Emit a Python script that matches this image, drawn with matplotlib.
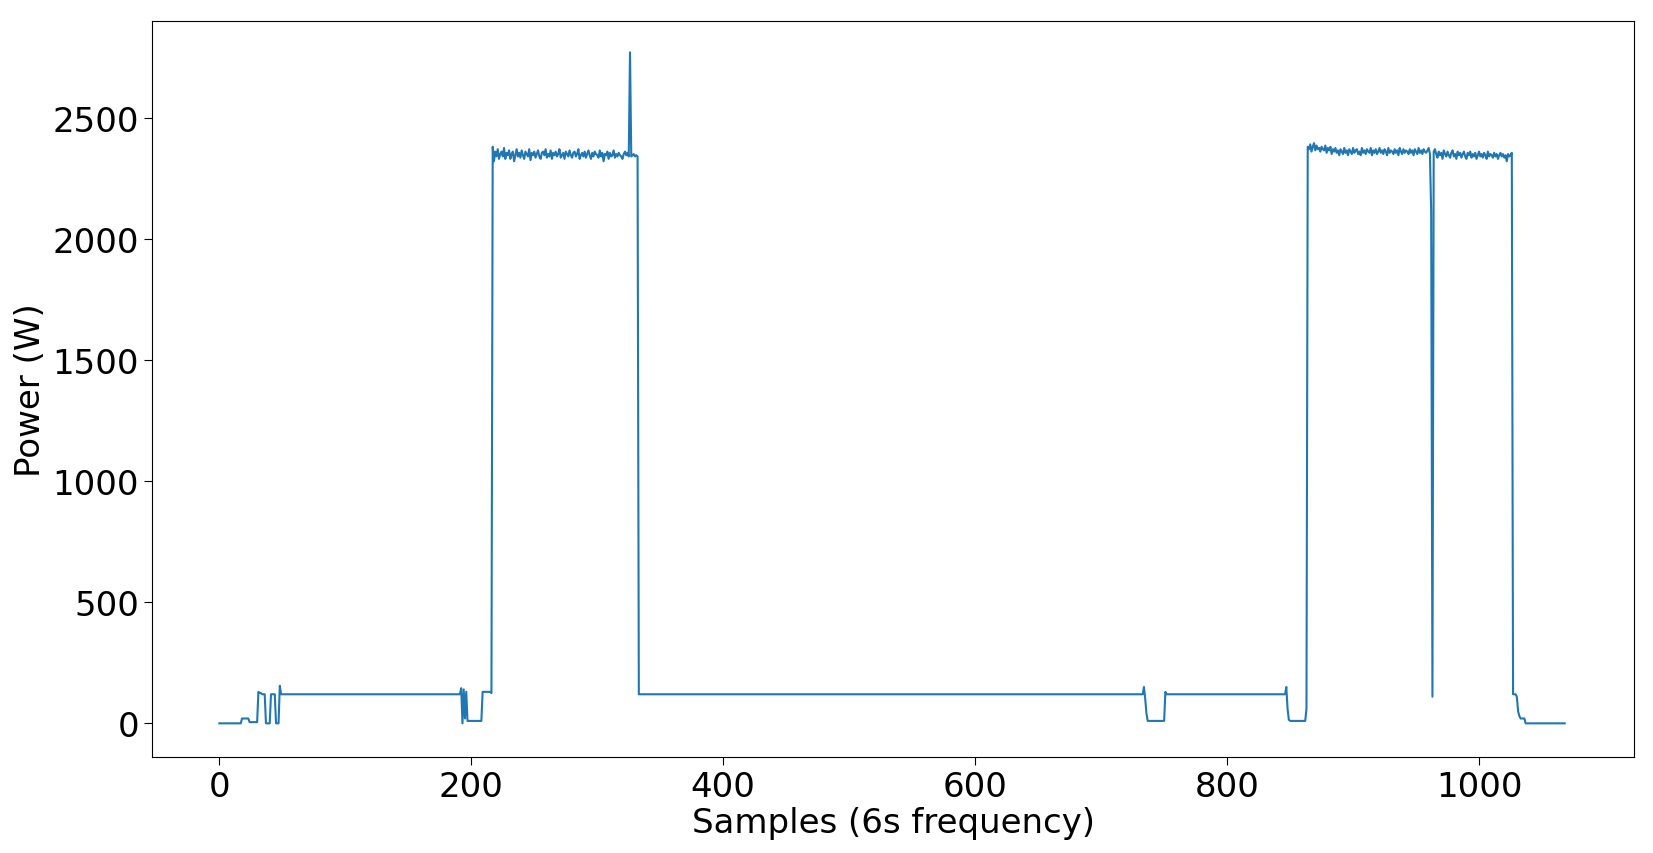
import matplotlib
matplotlib.use("Agg")
import matplotlib.pyplot as plt

# Run-length segments: (value, count)
lead_in = [(0, 18), (20, 6), (5, 7), (130, 1), (125, 2), (120, 3), (0, 4), (120, 4), (0, 3),
           (155, 1), (120, 143), (145, 1), (0, 1), (140, 1), (20, 1), (130, 1), (10, 12),
           (130, 7), (125, 1)]
plateau1 = [2380, 2320, 2360, 2340, 2370, 2330, 2350, 2360, 2340, 2375, 2330, 2355, 2345, 2365,
            2330, 2350, 2360, 2320, 2345, 2370, 2340, 2355, 2335, 2365, 2345, 2330, 2360, 2350,
            2340, 2370, 2325, 2355, 2345, 2360, 2335, 2350, 2365, 2340, 2330, 2355, 2360, 2345,
            2370, 2335, 2350, 2340, 2365, 2330, 2355, 2345, 2360, 2340, 2350, 2370, 2335, 2345,
            2355, 2330, 2360, 2350, 2340, 2365, 2345, 2335, 2355, 2360, 2340, 2350, 2370, 2330,
            2345, 2355, 2340, 2360, 2335, 2350, 2365, 2345, 2330, 2355, 2340, 2360, 2350, 2345,
            2335, 2365, 2340, 2355, 2320, 2350, 2345, 2360, 2330, 2355, 2340, 2345, 2365, 2335,
            2350, 2340, 2355, 2345, 2340, 2330, 2350, 2360, 2345, 2355, 2340, 2770, 2340, 2345,
            2350, 2340, 2345, 2340]
middle = [(120, 401), (150, 1), (100, 1), (40, 1), (10, 14), (130, 1), (120, 95), (150, 1),
          (60, 1), (15, 1), (10, 13), (60, 1)]
plateau2 = [2380, 2370, 2390, 2360, 2380, 2395, 2365, 2385, 2370, 2375, 2360, 2380, 2370, 2365,
            2385, 2355, 2375, 2365, 2380, 2350, 2370, 2360, 2375, 2355, 2365, 2345, 2370, 2360,
            2350, 2375, 2355, 2365, 2345, 2370, 2360, 2350, 2375, 2355, 2365, 2370, 2350, 2360,
            2345, 2375, 2355, 2365, 2350, 2370, 2360, 2355, 2375, 2345, 2365, 2355, 2370, 2350,
            2360, 2375, 2355, 2365, 2350, 2370, 2360, 2345, 2375, 2355, 2365, 2360, 2350, 2370,
            2355, 2365, 2345, 2375, 2360, 2350, 2370, 2355, 2365, 2360, 2350, 2370, 2355, 2365,
            2345, 2370, 2360, 2350, 2375, 2355, 2365, 2350, 2370, 2360, 2355, 2365, 2375, 2350,
            2110, 110, 2360, 2370, 2350, 2335, 2360, 2345, 2355, 2330, 2365, 2350,
            2340, 2360, 2345, 2335, 2355, 2365, 2340, 2350, 2330, 2360, 2345, 2355, 2335, 2350,
            2360, 2340, 2330, 2355, 2345, 2360, 2335, 2350, 2340, 2355, 2330, 2345, 2360, 2340,
            2350, 2335, 2355, 2345, 2330, 2360, 2340, 2350, 2345, 2335, 2355, 2340, 2350, 2330,
            2345, 2355, 2340, 2350, 2335, 2345, 2320, 2350, 2340, 2345, 2355]
tail = [(120, 3), (110, 1), (50, 1), (30, 1), (20, 4), (0, 32)]

def expand(segs):
    out = []
    for v, n in segs:
        out.extend([v] * n)
    return out

power = expand(lead_in) + plateau1 + expand(middle) + plateau2 + expand(tail)
samples = list(range(len(power)))

plt.rcParams['font.family'] = ['DejaVu Sans']
fig = plt.figure(figsize=(16.53, 8.54), dpi=100)
ax = fig.add_axes([0.092, 0.1124, 0.8965, 0.8618])
ax.plot(samples, power, color='#1f77b4', linewidth=1.5)
ax.set_xlim(-53.4, 1123)
ax.set_ylim(-139, 2899)
ax.set_xticks([0, 200, 400, 600, 800, 1000])
ax.set_yticks([0, 500, 1000, 1500, 2000, 2500])
ax.tick_params(labelsize=24.5, length=6)
ax.set_xlabel('Samples (6s frequency)', fontsize=24.5, labelpad=2)
ax.set_ylabel('Power (W)', fontsize=24.5)
fig.savefig('out.png', dpi=100)
